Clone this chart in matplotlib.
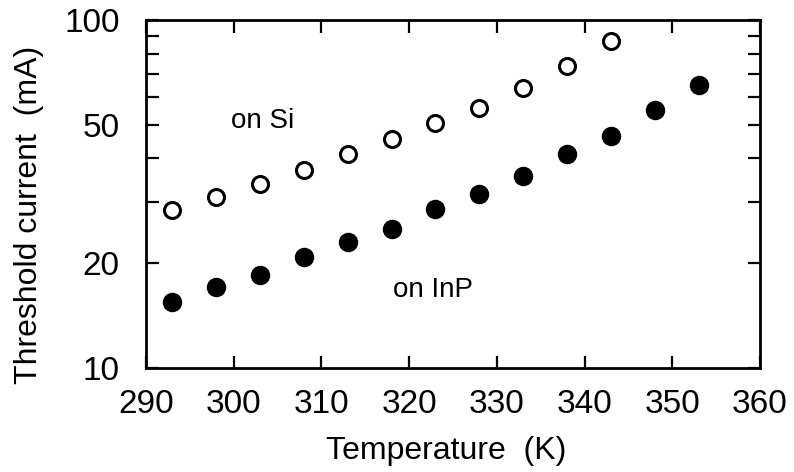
import matplotlib
matplotlib.use("Agg")
import matplotlib.pyplot as plt
from matplotlib.ticker import FixedLocator, NullFormatter

plt.rcParams['font.family'] = ['Liberation Sans', 'DejaVu Sans']

# Threshold current vs temperature
temp_si = [293, 298, 303, 308, 313, 318, 323, 328, 333, 338, 343]
ith_si = [28.4, 31.1, 33.9, 37.1, 41.1, 45.6, 50.5, 56.0, 63.8, 73.9, 87.0]

temp_inp = [293, 298, 303, 308, 313, 318, 323, 328, 333, 338, 343, 348, 353]
ith_inp = [15.5, 17.1, 18.5, 20.8, 23.0, 25.1, 28.6, 31.7, 35.6, 41.3,
           46.4, 55.2, 65.2]

x_ticks = [290, 300, 310, 320, 330, 340, 350, 360]
y_ticks = [10, 20, 50, 100]
y_minor = [30, 40, 60, 70, 80, 90]

fig = plt.figure(figsize=(7.94, 4.72), dpi=100)
ax = fig.add_axes([0.1839, 0.2203, 0.7733, 0.7373])

ax.plot(temp_si, ith_si, 'o', mfc='white', mec='black', mew=2.2, ms=11.5)
ax.plot(temp_inp, ith_inp, 'o', mfc='black', mec='black', ms=13)

ax.set_yscale('log')
ax.set_xlim(290, 360)
ax.set_ylim(10, 100)

ax.xaxis.set_major_locator(FixedLocator(x_ticks))
ax.set_xticklabels([str(t) for t in x_ticks])
ax.yaxis.set_major_locator(FixedLocator(y_ticks))
ax.set_yticklabels([str(t) for t in y_ticks])
ax.yaxis.set_minor_locator(FixedLocator(y_minor))
ax.yaxis.set_minor_formatter(NullFormatter())

ax.tick_params(which='both', direction='in', top=True, right=True,
               length=9, width=1.6, labelsize=24)
ax.tick_params(axis='x', pad=15)
ax.tick_params(axis='y', pad=19)
for s in ax.spines.values():
    s.set_linewidth(2)

ax.text(303.3, 51.3, "on Si", fontsize=20, ha='center', va='center')
ax.text(322.7, 16.8, "on InP", fontsize=20, ha='center', va='center')

ax.set_xlabel("Temperature  (K)", fontsize=23)
ax.set_ylabel("Threshold current  (mA)", fontsize=23)
ax.xaxis.set_label_coords(0.489, -0.195)
ax.yaxis.set_label_coords(-0.166, 0.44)

fig.savefig("out.png", dpi=100)
